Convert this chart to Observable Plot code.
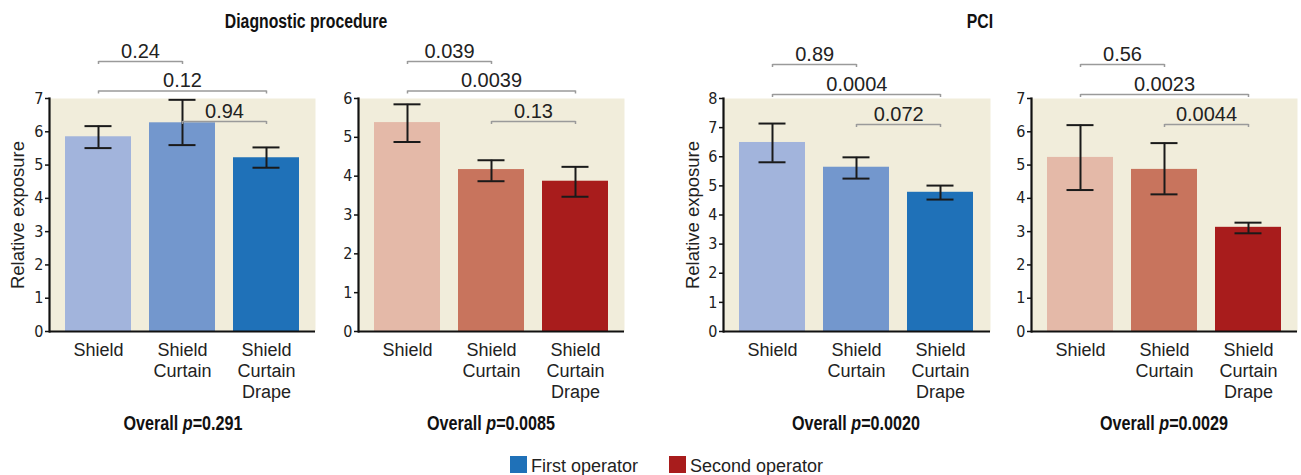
<!DOCTYPE html>
<html>
<head>
<meta charset="utf-8">
<script src="https://cdn.jsdelivr.net/npm/d3@7"></script>
<script src="https://cdn.jsdelivr.net/npm/@observablehq/plot@0.6"></script>
<style>
  html, body { margin: 0; padding: 0; background: #ffffff; overflow: hidden; }
  #root { position: relative; width: 1301px; height: 475px; font-family: "Liberation Sans", Arial, sans-serif; color: #222; }
  .panel { position: absolute; top: 0; }
  .title { position: absolute; font-family: "Liberation Sans", Arial, sans-serif; font-weight: bold; font-size: 19.5px; line-height: 19px; white-space: nowrap; transform-origin: center; transform: translateX(-50%) scaleX(0.81); color: #111; }
  .overall { position: absolute; font-family: "Liberation Sans", Arial, sans-serif; font-weight: bold; font-size: 21px; line-height: 20px; white-space: nowrap; transform-origin: center; transform: translateX(-50%) scaleX(0.77); color: #111; }
  .leg { position: absolute; font-size: 18px; line-height: 18px; white-space: nowrap; color: #222; }
  .sw { position: absolute; width: 17px; height: 17px; }
</style>
</head>
<body>
<div id="root"></div>
<script>
// ---------- data ----------
const categories = ["Shield", "Shield Curtain", "Shield Curtain Drape"];
const comparisons = [[0, 1], [0, 2], [1, 2]];

const diagFirstMean = [5.85, 6.27, 5.22];
const diagFirstLow  = [5.51, 5.60, 4.92];
const diagFirstHigh = [6.17, 6.96, 5.53];
const diagFirstP    = ["0.24", "0.12", "0.94"];

const diagSecondMean = [5.38, 4.17, 3.87];
const diagSecondLow  = [4.88, 3.87, 3.47];
const diagSecondHigh = [5.85, 4.41, 4.24];
const diagSecondP    = ["0.039", "0.0039", "0.13"];

const pciFirstMean = [6.49, 5.64, 4.78];
const pciFirstLow  = [5.81, 5.25, 4.53];
const pciFirstHigh = [7.14, 5.98, 5.01];
const pciFirstP    = ["0.89", "0.0004", "0.072"];

const pciSecondMean = [5.23, 4.87, 3.13];
const pciSecondLow  = [4.25, 4.12, 2.95];
const pciSecondHigh = [6.20, 5.66, 3.27];
const pciSecondP    = ["0.56", "0.0023", "0.0044"];

const overallP = ["0.291", "0.0085", "0.0020", "0.0029"];
const yMaxTicks = [7, 6, 8, 7];
const groupTitles = ["Diagnostic procedure", "PCI"];
const legendLabels = ["First operator", "Second operator"];

// ---------- styles ----------
const bluePalette = ["#a2b4dc", "#7397cd", "#1f71b8"];
const redPalette  = ["#e4b9a8", "#c8745d", "#a81c1c"];
const beige = "#f1eddb";
const PAD_IN = 0.214, PAD_OUT = 0.19;
const TOP = 98, BOTTOM = 331, H = 440;

const root = document.getElementById("root");

function panel(cfg) {
  const data = categories.map((c, i) => ({cat: c, mean: cfg.mean[i], lo: cfg.low[i], hi: cfg.high[i]}));
  const ymax = cfg.ymax;
  const toY = py => ymax * (BOTTOM - py) / (BOTTOM - TOP);
  const plotW = cfg.width - cfg.marginLeft - cfg.marginRight;
  const step = plotW / (categories.length - PAD_IN + 2 * PAD_OUT);
  const brackets = comparisons.map(([a, b], k) => ({
    a: categories[a], b: categories[b],
    y: toY(cfg.levels[k]), yEnd: toY(cfg.levels[k] + 3),
    label: cfg.p[k], dx: (b - a) * step / 2
  }));
  const marks = [
    Plot.frame({fill: beige, stroke: null}),
    Plot.barY(data, {x: "cat", y: "mean", fill: "cat"}),
    Plot.ruleX(data, {x: "cat", y1: "lo", y2: "hi", stroke: "#1a1a1a", strokeWidth: 2}),
    Plot.tickY(data, {x: "cat", y: "lo", stroke: "#1a1a1a", strokeWidth: 2, inset: 19.5}),
    Plot.tickY(data, {x: "cat", y: "hi", stroke: "#1a1a1a", strokeWidth: 2, inset: 19.5}),
    Plot.ruleY([0], {stroke: "#111", strokeWidth: 2.2}),
    Plot.frame({anchor: "left", stroke: "#111", strokeWidth: 2.2}),
    Plot.axisY({ticks: d3.range(0, ymax + 1), tickSize: 4, tickPadding: 2, fontSize: 16,
      fontFamily: "Liberation Sans Narrow, DejaVu Sans Condensed, Liberation Sans, sans-serif",
      tickFormat: "d", label: null, stroke: "#111", strokeWidth: 1.5}),
    Plot.axisX({tickSize: 0, tickPadding: 10, fontSize: 18, lineHeight: 1.15, label: null,
      tickFormat: d => d.replace(/ /g, "\n")}),
    Plot.link(brackets, {x1: "a", x2: "b", y1: "y", y2: "y", stroke: "#9a9a9a", strokeWidth: 1.5}),
    Plot.ruleX(brackets, {x: "a", y1: "y", y2: "yEnd", stroke: "#9a9a9a", strokeWidth: 1.5}),
    Plot.ruleX(brackets, {x: "b", y1: "y", y2: "yEnd", stroke: "#9a9a9a", strokeWidth: 1.5}),
    ...brackets.map(br => Plot.text([br], {x: "a", y: "y", text: "label", dx: br.dx, dy: -4,
      lineAnchor: "bottom", fontSize: 20, fill: "#222"}))
  ];
  if (cfg.ylabel) {
    marks.push(Plot.text(["Relative exposure"], {frameAnchor: "left", textAnchor: "middle", rotate: -90,
      dx: cfg.ylabelDx, fontSize: 18.5, fill: "#222", text: d => d}));
  }
  const chart = Plot.plot({
    width: cfg.width, height: H,
    marginLeft: cfg.marginLeft, marginRight: cfg.marginRight,
    marginTop: TOP, marginBottom: H - BOTTOM,
    x: {type: "band", domain: categories, paddingInner: PAD_IN, paddingOuter: PAD_OUT},
    y: {domain: [0, ymax]},
    color: {domain: categories, range: cfg.colors},
    style: {fontFamily: "Liberation Sans, Arial, sans-serif", fontSize: "18px", color: "#222",
      background: "transparent", overflow: "visible"},
    marks
  });
  const wrap = document.createElement("div");
  wrap.className = "panel";
  wrap.style.left = cfg.left + "px";
  wrap.appendChild(chart);
  root.appendChild(wrap);
}

panel({left: 0, width: 320, marginLeft: 49, marginRight: 5, ymax: yMaxTicks[0],
  mean: diagFirstMean, low: diagFirstLow, high: diagFirstHigh, p: diagFirstP,
  colors: bluePalette, levels: [61, 90.5, 121], ylabel: true, ylabelDx: -31});
panel({left: 318, width: 312, marginLeft: 40, marginRight: 6, ymax: yMaxTicks[1],
  mean: diagSecondMean, low: diagSecondLow, high: diagSecondHigh, p: diagSecondP,
  colors: redPalette, levels: [61, 90.5, 121], ylabel: false});
panel({left: 674, width: 321, marginLeft: 49, marginRight: 5, ymax: yMaxTicks[2],
  mean: pciFirstMean, low: pciFirstLow, high: pciFirstHigh, p: pciFirstP,
  colors: bluePalette, levels: [64, 94, 124], ylabel: true, ylabelDx: -30});
panel({left: 991, width: 310, marginLeft: 40, marginRight: 4, ymax: yMaxTicks[3],
  mean: pciSecondMean, low: pciSecondLow, high: pciSecondHigh, p: pciSecondP,
  colors: redPalette, levels: [64, 94, 124], ylabel: false});

// titles
const titleX = [306, 980];
groupTitles.forEach((t, i) => {
  const d = document.createElement("div");
  d.className = "title"; d.textContent = t;
  d.style.left = titleX[i] + "px"; d.style.top = "12px";
  root.appendChild(d);
});
// overall p labels
const overallX = [183, 491, 856, 1164];
overallP.forEach((p, i) => {
  const d = document.createElement("div");
  d.className = "overall";
  d.innerHTML = "Overall <i>p</i>=" + p;
  d.style.left = overallX[i] + "px"; d.style.top = "413px";
  root.appendChild(d);
});
// legend
const legendSw = [510, 669];
const legendColors = [bluePalette[2], redPalette[2]];
legendLabels.forEach((l, i) => {
  const s = document.createElement("div");
  s.className = "sw"; s.style.left = legendSw[i] + "px"; s.style.top = "456px";
  s.style.background = legendColors[i];
  root.appendChild(s);
  const t = document.createElement("div");
  t.className = "leg"; t.textContent = l;
  t.style.left = (legendSw[i] + 21) + "px"; t.style.top = "457px";
  root.appendChild(t);
});
</script>
</body>
</html>
